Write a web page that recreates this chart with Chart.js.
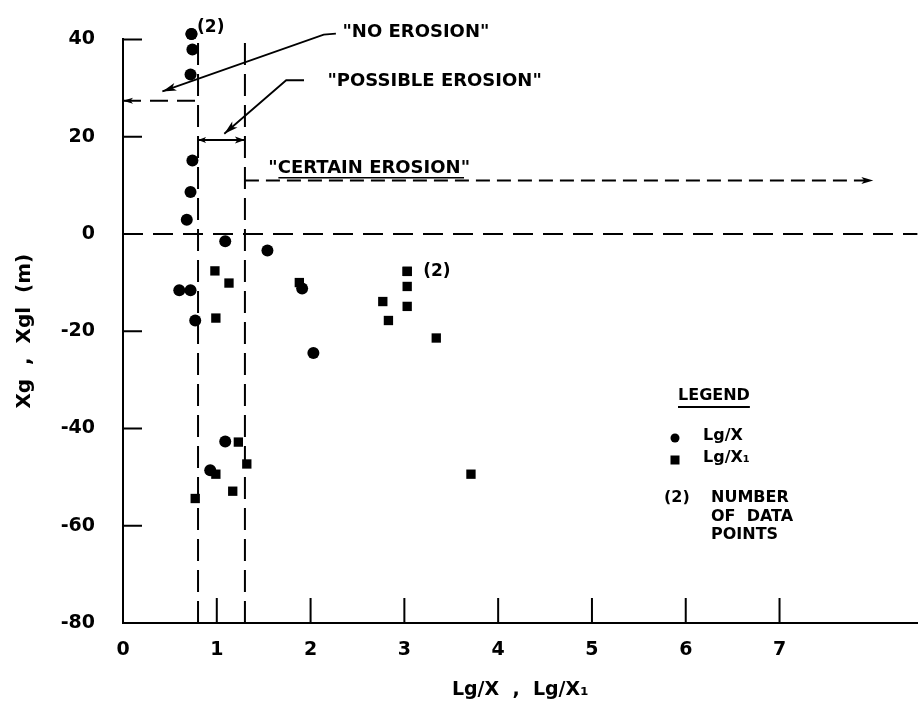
<!DOCTYPE html>
<html><head><meta charset="utf-8">
<script src="https://cdn.jsdelivr.net/npm/chart.js@4/dist/chart.umd.min.js"></script>
<style>html,body{margin:0;padding:0;background:#fff}#wrap{width:924px;height:708px}</style>
</head><body><div id="wrap"><canvas id="c" width="924" height="708"></canvas></div>
<script>
// ---- data ----
const circleX = [0.73, 0.73, 0.74, 0.72, 0.74, 0.72, 0.68, 1.09, 1.54, 0.60, 0.72, 0.77, 1.91, 2.03, 1.09, 0.93];
const circleY = [41.1, 41.1, 37.9, 32.8, 15.1, 8.6, 2.9, -1.5, -3.4, -11.6, -11.6, -17.8, -11.2, -24.5, -42.7, -48.6];
const squareX = [0.98, 1.13, 0.99, 1.88, 3.03, 3.03, 3.03, 2.77, 3.03, 2.83, 3.34, 1.23, 1.32, 0.99, 1.17, 0.77, 3.71];
const squareY = [-7.6, -10.1, -17.3, -10.0, -7.7, -7.7, -10.8, -13.9, -14.9, -17.8, -21.4, -42.8, -47.3, -49.4, -52.9, -54.4, -49.4];
const xTicks = [0, 1, 2, 3, 4, 5, 6, 7];
const yTicks = [-80, -60, -40, -20, 0, 20, 40];
const zoneBoundX = [0.8, 1.3];
const zoneLevelY = [27.4, 19.3, 11.0];
const zoneLabels = ['"NO EROSION"', '"POSSIBLE EROSION"', '"CERTAIN EROSION"'];
const zoneLabelX = [2.34, 2.18, 1.55];
const zoneLabelY = [41.4, 31.4, 13.4];
const noLeaderX = [0.42, 2.14, 2.27];
const noLeaderY = [29.3, 41.0, 41.2];
const possLeaderX = [1.08, 1.74, 1.93];
const possLeaderY = [20.6, 31.6, 31.6];
const certainEndX = 8.0;
const countLabelX = [0.79, 3.20];
const countLabelY = [42.4, -7.7];
const xMax = 8.47;

const FONT = 'DejaVu Sans';
const pts = (xs, ys) => xs.map((x, i) => ({x, y: ys[i]}));
const lineDs = (data, dash, w) => ({
  data, showLine: true, pointRadius: 0, borderColor: '#000', backgroundColor: '#000',
  borderWidth: w || 2, borderDash: dash || [], clip: false, fill: false, tension: 0
});

const datasets = [
  lineDs([{x: 0, y: 0}, {x: xMax, y: 0}], [20, 10]),
  lineDs([{x: zoneBoundX[0], y: -80}, {x: zoneBoundX[0], y: 40}], [22, 9]),
  lineDs([{x: zoneBoundX[1], y: -80}, {x: zoneBoundX[1], y: 40}], [22, 9]),
  lineDs([{x: 0, y: zoneLevelY[0]}, {x: zoneBoundX[0], y: zoneLevelY[0]}], [18, 9]),
  lineDs([{x: zoneBoundX[0], y: zoneLevelY[1]}, {x: zoneBoundX[1], y: zoneLevelY[1]}], []),
  lineDs([{x: zoneBoundX[1], y: zoneLevelY[2]}, {x: certainEndX, y: zoneLevelY[2]}], [14, 7]),
  lineDs(pts(noLeaderX, noLeaderY), [], 1.8),
  lineDs(pts(possLeaderX, possLeaderY), [], 1.8),
  {label: 'Lg/X', data: pts(circleX, circleY), pointStyle: 'circle', pointRadius: 6,
   backgroundColor: '#000', borderColor: '#000', borderWidth: 0, clip: false},
  {label: 'Lg/X1', data: pts(squareX, squareY), pointStyle: 'rect', pointRadius: 6.6,
   backgroundColor: '#000', borderColor: '#000', borderWidth: 0, clip: false}
];

function arrowHead(ctx, x0, y0, x1, y1, len, wid) {
  const a = Math.atan2(y1 - y0, x1 - x0);
  ctx.save();
  ctx.translate(x1, y1); ctx.rotate(a);
  ctx.beginPath(); ctx.moveTo(0, 0); ctx.lineTo(-len, -wid); ctx.lineTo(-len * 0.75, 0); ctx.lineTo(-len, wid); ctx.closePath();
  ctx.fillStyle = '#000'; ctx.fill();
  ctx.restore();
}

const annot = {
  id: 'annot',
  afterDatasetsDraw(chart) {
    const {ctx, scales: {x, y}} = chart;
    ctx.save();
    ctx.fillStyle = '#000'; ctx.strokeStyle = '#000';
    arrowHead(ctx, x.getPixelForValue(noLeaderX[1]), y.getPixelForValue(noLeaderY[1]),
      x.getPixelForValue(noLeaderX[0]), y.getPixelForValue(noLeaderY[0]), 14, 4);
    arrowHead(ctx, x.getPixelForValue(possLeaderX[1]), y.getPixelForValue(possLeaderY[1]),
      x.getPixelForValue(possLeaderX[0]), y.getPixelForValue(possLeaderY[0]), 14, 4);
    arrowHead(ctx, x.getPixelForValue(1), y.getPixelForValue(zoneLevelY[0]),
      x.getPixelForValue(0), y.getPixelForValue(zoneLevelY[0]), 10, 3);
    arrowHead(ctx, x.getPixelForValue(zoneBoundX[0]), y.getPixelForValue(zoneLevelY[1]),
      x.getPixelForValue(zoneBoundX[1]), y.getPixelForValue(zoneLevelY[1]), 10, 3.5);
    arrowHead(ctx, x.getPixelForValue(zoneBoundX[1]), y.getPixelForValue(zoneLevelY[1]),
      x.getPixelForValue(zoneBoundX[0]), y.getPixelForValue(zoneLevelY[1]), 8, 3);
    arrowHead(ctx, x.getPixelForValue(zoneBoundX[1]), y.getPixelForValue(zoneLevelY[2]),
      x.getPixelForValue(certainEndX), y.getPixelForValue(zoneLevelY[2]), 12, 3.5);
    ctx.font = 'bold 18px ' + FONT;
    ctx.textBaseline = 'middle'; ctx.textAlign = 'left';
    zoneLabels.forEach((t, i) => {
      const px = x.getPixelForValue(zoneLabelX[i]), py = y.getPixelForValue(zoneLabelY[i]);
      ctx.fillText(t, px, py);
      if (i === 2) {
        const w = ctx.measureText(t).width;
        ctx.lineWidth = 1.5;
        ctx.beginPath(); ctx.moveTo(px + 10, py + 9); ctx.lineTo(px + w - 6, py + 9); ctx.stroke();
      }
    });
    ctx.font = 'bold 17px ' + FONT;
    countLabelX.forEach((v, i) => ctx.fillText('(2)', x.getPixelForValue(v), y.getPixelForValue(countLabelY[i])));
    ctx.restore();
  },
  afterDraw(chart) {
    const {ctx, scales: {x, y}, chartArea: ca} = chart;
    ctx.save();
    ctx.strokeStyle = '#000'; ctx.lineWidth = 2;
    ctx.beginPath();
    xTicks.forEach(v => { const p = x.getPixelForValue(v); ctx.moveTo(p, ca.bottom); ctx.lineTo(p, ca.bottom - 25); });
    yTicks.forEach(v => { const p = y.getPixelForValue(v); ctx.moveTo(ca.left, p); ctx.lineTo(ca.left + 19, p); });
    ctx.stroke();
    ctx.fillStyle = '#000';
    ctx.textBaseline = 'middle'; ctx.textAlign = 'left';
    ctx.font = 'bold 16px ' + FONT;
    const lx = 678;
    ctx.fillText('LEGEND', lx, 396);
    const lw = ctx.measureText('LEGEND').width;
    ctx.lineWidth = 2;
    ctx.beginPath(); ctx.moveTo(lx, 407); ctx.lineTo(lx + lw, 407); ctx.stroke();
    ctx.beginPath(); ctx.arc(675, 438, 4.5, 0, Math.PI * 2); ctx.fill();
    ctx.fillRect(670.5, 455.5, 9, 9);
    ctx.fillText('Lg/X', 703, 436);
    ctx.fillText('Lg/X\u2081', 703, 458);
    ctx.fillText('(2)', 664, 498);
    ctx.fillText('NUMBER', 711, 498);
    ctx.fillText('OF  DATA', 711, 517);
    ctx.fillText('POINTS', 711, 535);
    ctx.restore();
  }
};

new Chart(document.getElementById('c'), {
  type: 'scatter',
  data: {datasets},
  options: {
    responsive: false, animation: false, devicePixelRatio: 1,
    layout: {padding: {top: 35, right: 0, left: 0, bottom: 0}},
    plugins: {legend: {display: false}, tooltip: {enabled: false}},
    elements: {line: {borderCapStyle: 'butt'}},
    scales: {
      x: {
        type: 'linear', min: 0, max: xMax,
        afterBuildTicks: s => { s.ticks = xTicks.map(v => ({value: v})); },
        afterFit: s => { s.height = 85; },
        grid: {display: false, drawTicks: false},
        border: {display: true, color: '#000', width: 2},
        ticks: {padding: 16, color: '#000', maxRotation: 0, autoSkip: false,
                font: {family: FONT, size: 19, weight: 'bold'}},
        title: {display: true, text: 'Lg/X  ,  Lg/X\u2081', color: '#000',
                font: {family: FONT, size: 19, weight: 'bold'}, padding: {top: 0, bottom: 7}}
      },
      y: {
        type: 'linear', min: -80, max: 40,
        afterBuildTicks: s => { s.ticks = yTicks.map(v => ({value: v})); },
        afterFit: s => { s.width = 123; },
        grid: {display: false, drawTicks: false},
        border: {display: true, color: '#000', width: 2},
        ticks: {padding: 28, color: '#000', font: {family: FONT, size: 19, weight: 'bold'}},
        title: {display: true, text: 'Xg  ,  Xgl  (m)', color: '#000',
                font: {family: FONT, size: 20, weight: 'bold'}, padding: {top: 13, bottom: 0}}
      }
    }
  },
  plugins: [annot]
});
</script></body></html>
